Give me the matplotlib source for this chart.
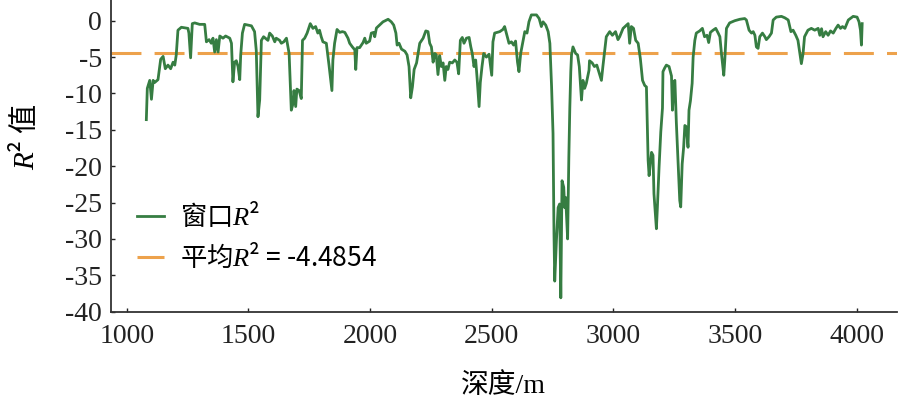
import matplotlib
matplotlib.use("Agg")
import matplotlib.pyplot as plt

depth = [1080, 1084, 1094, 1101, 1108, 1114, 1128, 1139, 1149, 1158, 1169, 1180, 1190, 1197, 1203, 1210,
         1224, 1251, 1255, 1262, 1269, 1279, 1299, 1320, 1327, 1338, 1347, 1354, 1361, 1368, 1375, 1382,
         1395, 1406, 1423, 1430, 1436, 1443, 1450, 1457, 1464, 1468, 1475, 1484, 1512, 1525, 1532, 1539,
         1546, 1553, 1562, 1580, 1587, 1598, 1608, 1614, 1628, 1635, 1645, 1656, 1667, 1676, 1683, 1687,
         1694, 1699, 1708, 1717, 1722, 1731, 1741, 1754, 1765, 1776, 1785, 1792, 1799, 1806, 1820, 1831,
         1843, 1847, 1854, 1864, 1875, 1886, 1896, 1909, 1916, 1927, 1937, 1941, 1946, 1957, 1971, 1978,
         1984, 1998, 2005, 2015, 2019, 2026, 2053, 2074, 2087, 2097, 2106, 2111, 2119, 2129, 2143, 2152,
         2160, 2167, 2174, 2181, 2191, 2204, 2218, 2229, 2238, 2245, 2252, 2259, 2266, 2272, 2279, 2286,
         2293, 2300, 2307, 2313, 2320, 2327, 2338, 2348, 2357, 2364, 2371, 2379, 2386, 2396, 2407, 2414,
         2420, 2427, 2434, 2440, 2448, 2453, 2460, 2467, 2478, 2489, 2500, 2505, 2512, 2533, 2546, 2553,
         2560, 2571, 2581, 2590, 2598, 2606, 2612, 2619, 2629, 2636, 2645, 2653, 2663, 2684, 2695, 2704,
         2711, 2722, 2732, 2739, 2746, 2752, 2756, 2759, 2766, 2773, 2779, 2784, 2789, 2796, 2800, 2804,
         2812, 2817, 2821, 2825, 2828, 2834, 2845, 2853, 2860, 2869, 2875, 2882, 2889, 2900, 2902, 2913,
         2922, 2932, 2940, 2951, 2957, 2971, 2985, 2996, 3009, 3019, 3026, 3040, 3061, 3067, 3074, 3083,
         3092, 3102, 3111, 3120, 3129, 3136, 3143, 3147, 3157, 3163, 3167, 3177, 3181, 3188, 3195, 3202,
         3204, 3211, 3218, 3229, 3239, 3243, 3249, 3253, 3259, 3266, 3273, 3277, 3283, 3289, 3294, 3300,
         3307, 3311, 3317, 3324, 3328, 3335, 3341, 3355, 3366, 3375, 3385, 3392, 3399, 3410, 3421, 3431,
         3438, 3445, 3454, 3458, 3465, 3478, 3499, 3520, 3540, 3547, 3558, 3568, 3575, 3582, 3588, 3595,
         3602, 3613, 3623, 3629, 3640, 3650, 3657, 3670, 3691, 3705, 3719, 3730, 3739, 3750, 3759, 3766,
         3773, 3780, 3786, 3800, 3814, 3828, 3842, 3849, 3856, 3862, 3873, 3883, 3893, 3904, 3915, 3924,
         3934, 3942, 3952, 3966, 3986, 4002, 4010, 4016, 4020, 4023]

r2 = [-13.6, -9.3, -8.2, -10.8, -8.2, -8.5, -8.1, -5.3, -4.9, -6.6, -6.1, -6.6, -5.7, -6.1, -4.7, -1.3,
      -0.9, -1.05, -1.7, -5.1, -0.4, -0.3, -0.5, -0.5, -2.9, -2.6, -3.1, -2.4, -4.3, -2.6, -4.3, -2.1,
      -2.4, -2.1, -2.4, -3.1, -8.4, -5.7, -5.5, -6.3, -8.1, -4.7, -1.7, -0.5, -0.7, -1.5, -4.1, -13.2,
      -10.9, -2.7, -2.2, -2.7, -1.7, -2.1, -2.9, -2.4, -2.7, -3.1, -2.9, -2.4, -4.5, -12.3, -11.4, -9.6,
      -11.8, -9.4, -9.6, -10.7, -2.7, -2.4, -1.7, -0.4, -1.05, -0.8, -1.7, -1.3, -2.2, -2.9, -3.1, -6.1,
      -9.6, -5.4, -3.1, -1.2, -1.6, -1.5, -1.6, -2.4, -3.1, -3.6, -4.0, -6.7, -3.7, -3.7, -3.0, -2.4,
      -3.1, -2.8, -1.7, -1.6, -2.2, -1.0, -0.15, 0.2, -0.15, -0.6, -1.7, -3.35, -3.1, -3.9, -4.2, -4.7,
      -6.3, -10.6, -9.1, -6.7, -5.8, -3.1, -2.4, -1.4, -1.5, -3.1, -3.6, -5.7, -4.5, -4.7, -7.4, -4.8,
      -6.3, -5.8, -8.2, -6.3, -6.7, -5.7, -5.8, -5.4, -5.7, -7.3, -2.7, -2.3, -3.1, -2.4, -2.3, -3.6,
      -4.5, -6.3, -5.4, -7.95, -11.8, -8.5, -6.3, -4.5, -5.0, -4.6, -7.5, -2.9, -1.7, -1.5, -1.2, -0.8,
      -1.7, -3.1, -2.9, -3.35, -2.8, -5.7, -7.0, -4.5, -2.7, -1.5, -1.7, -0.15, 0.8, 0.8, 0.3, -0.8,
      -0.15, -0.6, -1.5, -3.1, -9.0, -15.5, -29.3, -35.8, -30.2, -25.7, -25.2, -38.1, -22.0, -22.9, -25.7, -24.3,
      -30.0, -18.8, -12.0, -7.0, -4.7, -3.6, -4.5, -4.7, -6.3, -10.9, -8.2, -9.3, -8.6, -6.8, -5.5, -5.8,
      -6.3, -6.1, -7.0, -8.2, -6.3, -2.2, -1.5, -2.0, -1.5, -2.6, -2.2, -1.05, -0.4, -3.1, -0.8, -1.05,
      -2.7, -3.1, -5.2, -8.2, -8.9, -9.1, -19.2, -21.3, -18.1, -18.5, -23.8, -28.6, -25.7, -20.1, -15.3, -12.0,
      -7.0, -6.5, -6.1, -6.3, -7.6, -12.3, -8.4, -8.2, -14.0, -19.2, -24.7, -25.6, -19.7, -17.4, -14.4, -14.6,
      -17.4, -12.3, -11.0, -8.6, -5.0, -2.7, -1.7, -1.4, -1.05, -2.2, -2.0, -3.0, -1.6, -1.3, -1.05, -1.7,
      -2.2, -4.7, -7.5, -5.5, -1.05, -0.3, 0.0, 0.2, 0.3, 0.1, -1.3, -1.7, -1.5, -2.0, -3.6, -3.8,
      -2.2, -1.7, -2.2, -2.6, -2.2, -1.7, 0.1, 0.5, 0.6, 0.4, 0.1, -1.5, -1.3, -2.0, -2.7, -4.3,
      -5.9, -4.5, -2.2, -1.3, -1.05, -1.3, -1.05, -2.0, -1.1, -2.2, -1.5, -2.0, -1.4, -1.7, -1.05, -0.6,
      -1.05, -0.8, -1.05, 0.1, 0.6, 0.5, -0.15, -1.3, -3.35, -0.4]

mean_r2 = -4.4854
xticks = [1000, 1500, 2000, 2500, 3000, 3500, 4000]
yticks = [0, -5, -10, -15, -20, -25, -30, -35, -40]

plt.rcParams['font.family'] = ['Liberation Serif', 'Noto Sans CJK SC']
plt.rcParams['axes.unicode_minus'] = False
plt.rcParams['mathtext.fontset'] = 'custom'
plt.rcParams['mathtext.rm'] = 'Liberation Serif'
plt.rcParams['mathtext.it'] = 'Liberation Serif:italic'

fig = plt.figure(figsize=(8.99, 4.09), dpi=100)
ax = fig.add_axes([0.123, 0.238, 0.875, 0.762])

green = '#367d42'
orange = '#eda24c'
ax.plot(depth, r2, color=green, lw=2.0, label='窗口$R$²', zorder=3)
ax.axhline(mean_r2, color=orange, lw=2.2, dashes=(9.8, 4.3),
           label=f'平均$R$² = {mean_r2}', zorder=2)

ax.set_xlim(933, 4167)
ax.set_ylim(-40, 2.85)
ax.set_xticks(xticks)
ax.set_yticks(yticks)
ax.tick_params(direction='in', length=3, width=1, labelsize=20, pad=6, colors='#222222')
ax.tick_params(axis='x', pad=9)
for s in ['top', 'right']:
    ax.spines[s].set_visible(False)
for s in ['left', 'bottom']:
    ax.spines[s].set_linewidth(1.3)
    ax.spines[s].set_color('#333333')

ax.set_xlabel('深度/m', fontsize=20, labelpad=17)
ax.set_ylabel('$R$² 值', fontsize=21, family=['Noto Sans CJK SC'])
ax.yaxis.set_label_coords(-0.088, 0.56)

leg = ax.legend(loc='upper left', bbox_to_anchor=(0.034, 0.355), frameon=False,
                prop={'family': ['Noto Sans CJK SC'], 'size': 19},
                handlelength=1.0, handletextpad=0.6, borderpad=0,
                borderaxespad=0, labelspacing=0.45)

fig.savefig('out.png', dpi=100)
